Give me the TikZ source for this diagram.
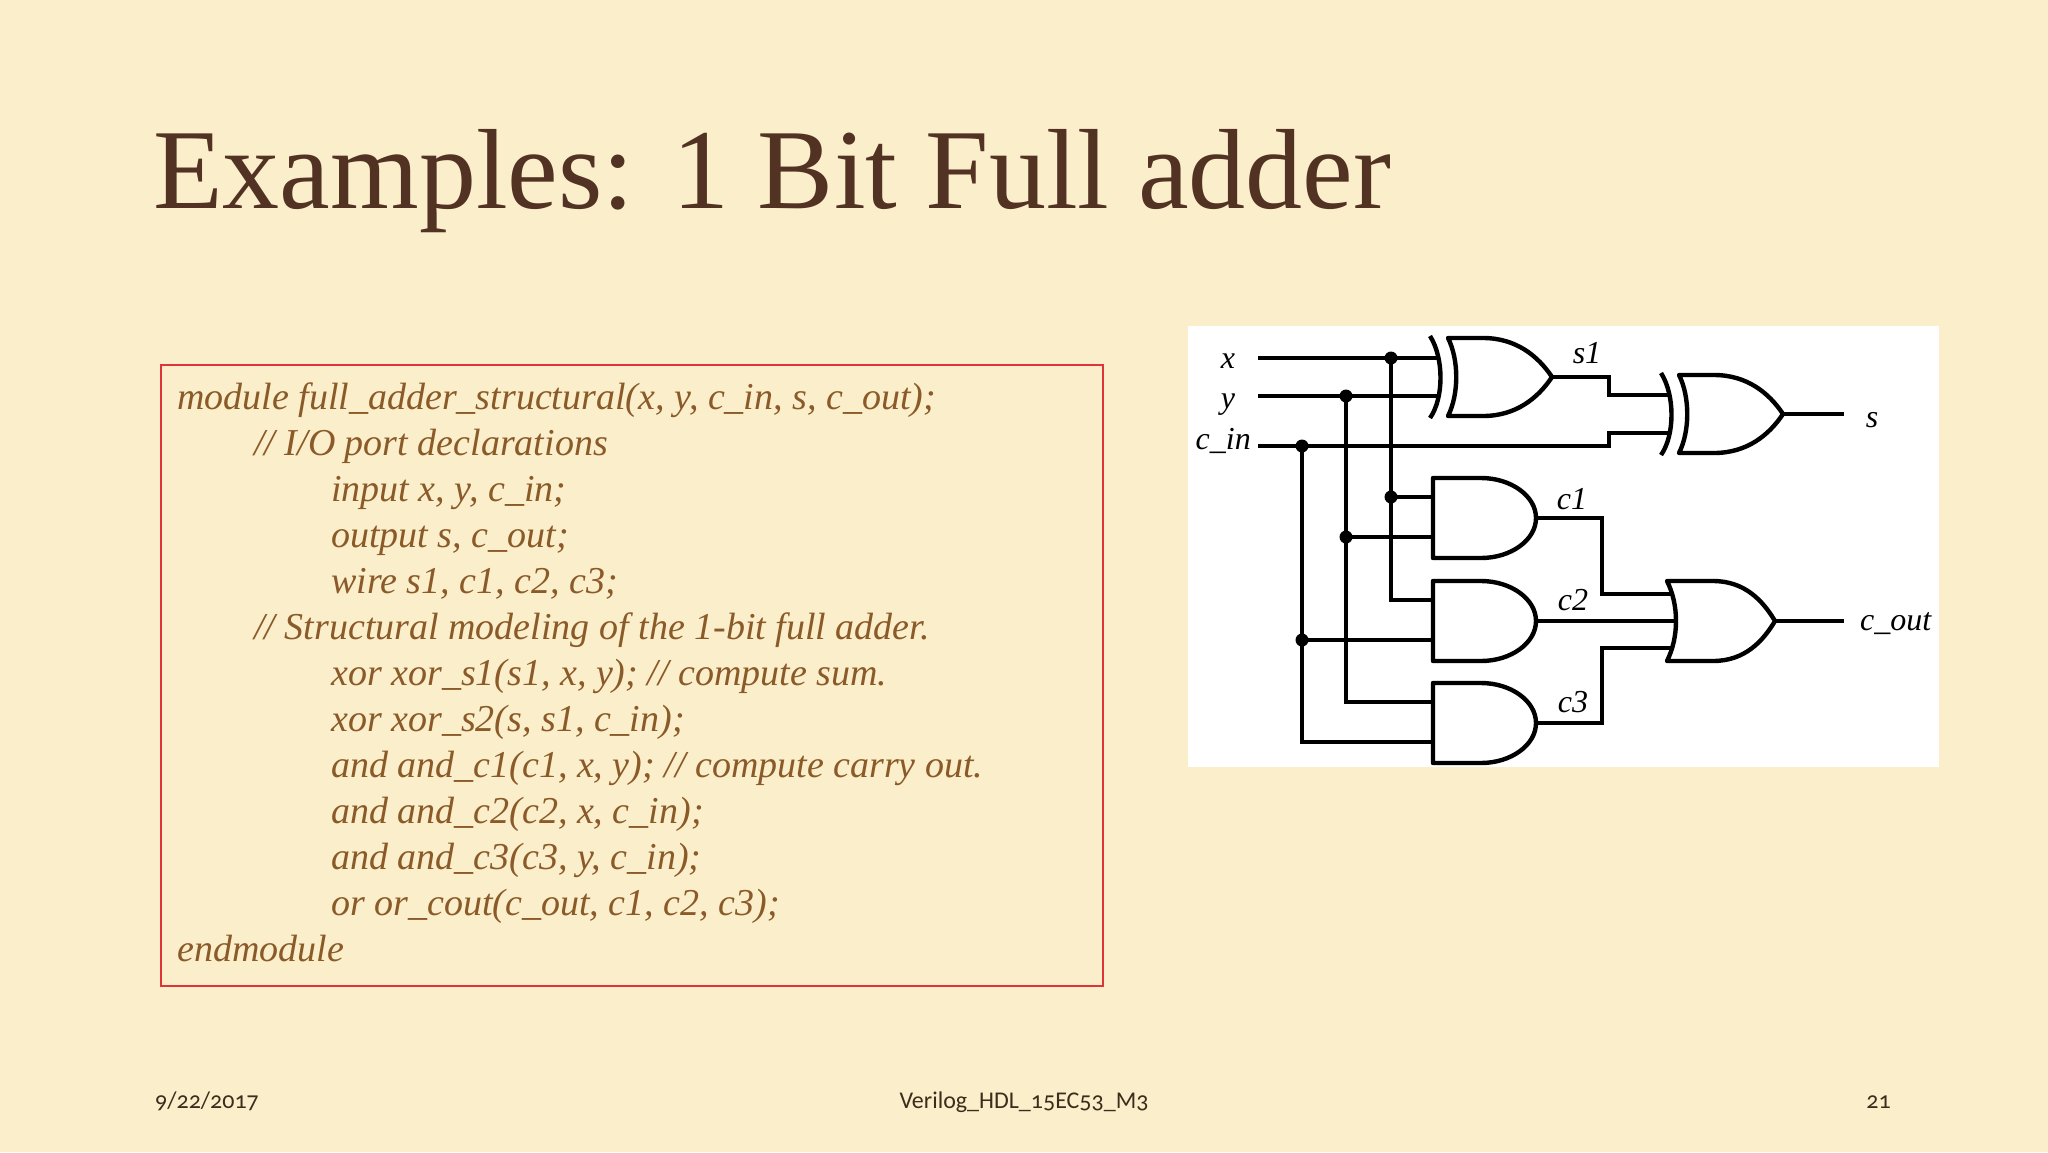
\documentclass[tikz,border=0pt]{standalone}
\usepackage{fontspec}
\setmainfont{Liberation Serif}
\newfontfamily\footfont{Carlito}[Numbers=OldStyle]
\definecolor{slidebg}{HTML}{FBEECB}
\definecolor{titlebrown}{HTML}{523222}
\definecolor{codebrown}{HTML}{8A5A28}
\definecolor{boxred}{HTML}{E0333A}
\definecolor{footdark}{HTML}{3C2C1C}
\tikzset{gate/.style = {line width = 4.4pt, line join = round}}
\tikzset{wire/.style = {line width = 3.1pt}}
\tikzset{circ/.style = {fill, circle, inner sep = 0, minimum size = 13}}
\tikzset{sig/.style = {font = \fontsize{32}{32}\selectfont\itshape, anchor = base, inner sep = 0}}
\tikzset{codeline/.style = {font = \fontsize{38}{46}\selectfont\itshape, text = codebrown,
                            anchor = base west, inner sep = 0}}
\tikzset{foot/.style = {font = \footfont\fontsize{24}{24}\selectfont, text = footdark, inner sep = 0}}

\newcommand{\xorgate}[2]{%
  \begin{scope}[shift={(#2)}]
    \draw [gate] (0,0) -- (35,0) .. controls (68,0) and (90,18) .. (104,39)
      .. controls (90,60) and (68,78) .. (35,78) -- (0,78)
      .. controls (11,56) and (11,22) .. (0,0) -- cycle;
    \draw [gate] (-18,-2) .. controls (-4,20) and (-4,60) .. (-18,80);
    \coordinate (#1-a) at (-10,20);
    \coordinate (#1-b) at (-10,58);
    \coordinate (#1-o) at (104,39);
  \end{scope}}
\newcommand{\andgate}[2]{%
  \begin{scope}[shift={(#2)}]
    \draw [gate] (48,0) -- (0,0) -- (0,80) -- (48,80)
      .. controls (78,80) and (103,62) .. (103,40)
      .. controls (103,18) and (78,0) .. (48,0) -- cycle;
    \coordinate (#1-a) at (0,19);
    \coordinate (#1-b) at (0,59);
    \coordinate (#1-o) at (103,40);
  \end{scope}}
\newcommand{\orgate}[2]{%
  \begin{scope}[shift={(#2)}]
    \draw [gate] (0,0) -- (46,0) .. controls (78,0) and (96,20) .. (108,40)
      .. controls (96,60) and (78,80) .. (46,80) -- (0,80)
      .. controls (12,56) and (12,24) .. (0,0) -- cycle;
    \coordinate (#1-a) at (5,13);
    \coordinate (#1-b) at (9,40);
    \coordinate (#1-c) at (5,67);
    \coordinate (#1-o) at (108,40);
  \end{scope}}

\begin{document}
\begin{tikzpicture}[x=1pt, y=-1pt]
  \useasboundingbox (0,0) rectangle (2048,1152);
  \fill [slidebg] (0,0) rectangle (2048,1152);

  \node [anchor=base west, inner sep=0, text=titlebrown, font=\fontsize{114}{114}\selectfont]
    (title) at (153,208) {Examples: 1 Bit Full adder};

  % verilog listing
  \draw [boxred, line width=2pt] (161,365) rectangle (1103,986);
  \foreach \lvl/\txt [count=\k from 0] in {
      0/{module full\_adder\_structural(x, y, c\_in, s, c\_out);},
      1/{// I/O port declarations},
      2/{input x, y, c\_in;},
      2/{output s, c\_out;},
      2/{wire s1, c1, c2, c3;},
      1/{// Structural modeling of the 1-bit full adder.},
      2/{xor xor\_s1(s1, x, y); // compute sum.},
      2/{xor xor\_s2(s, s1, c\_in);},
      2/{and and\_c1(c1, x, y); // compute carry out.},
      2/{and and\_c2(c2, x, c\_in);},
      2/{and and\_c3(c3, y, c\_in);},
      2/{or or\_cout(c\_out, c1, c2, c3);},
      0/{endmodule}}
    \node [codeline] (code\k) at ({177+77*\lvl}, {409+46*\k}) {\txt};

  % circuit
  \fill [white] (1188,326) rectangle (1939,767);
  \xorgate{xs1}{1448,338}
  \xorgate{xs2}{1679,375}
  \andgate{ac1}{1433,478}
  \andgate{ac2}{1433,581}
  \andgate{ac3}{1433,683}
  \orgate{orc}{1667,581}

  \node [sig] (lx) at (1228,368) {x};
  \node [sig] (ly) at (1228,408) {y};
  \node [sig, anchor=base east] (lcin) at (1251,449) {c\_in};
  \node [sig] (ls1) at (1587,363) {s1};
  \node [sig] (lc1) at (1572,509) {c1};
  \node [sig] (lc2) at (1573,610) {c2};
  \node [sig] (lc3) at (1573,712) {c3};
  \node [sig] (ls) at (1872,427) {s};
  \node [sig, anchor=base west] (lcout) at (1860,630) {c\_out};

  \coordinate (inx) at (1258,358);
  \coordinate (iny) at (1258,396);
  \coordinate (inc) at (1258,446);
  \coordinate (dx1) at (1391,358);
  \coordinate (dy1) at (1346,396);
  \coordinate (dc1) at (1302,446);
  \coordinate (dx2) at (dx1 |- ac1-a);
  \coordinate (dy2) at (dy1 |- ac1-b);
  \coordinate (dc2) at (dc1 |- ac2-b);
  \coordinate (outs) at (1844,414);
  \coordinate (outc) at (1844,621);

  \draw [wire] (inx) -- (xs1-a);
  \draw [wire] (iny) -- (xs1-b);
  \draw [wire] (inc) -- ++(351,0) |- (xs2-b);
  \draw [wire] (xs1-o) -- ++(57,0) |- (xs2-a);
  \draw [wire] (xs2-o) -- (outs);
  \draw [wire] (dx1) |- (ac2-a);
  \draw [wire] (dx2) -- (ac1-a);
  \draw [wire] (dy1) |- (ac3-a);
  \draw [wire] (dy2) -- (ac1-b);
  \draw [wire] (dc1) |- (ac3-b);
  \draw [wire] (dc2) -- (ac2-b);
  \draw [wire] (ac1-o) -- ++(66,0) |- (orc-a);
  \draw [wire] (ac2-o) -- (orc-b);
  \draw [wire] (ac3-o) -- ++(66,0) |- (orc-c);
  \draw [wire] (orc-o) -- (outc);
  \foreach \d in {dx1, dx2, dy1, dy2, dc1, dc2}
    \node [circ] (\d-dot) at (\d) {};

  % footer
  \node [foot, anchor=base west] (date) at (155,1108) {9/22/2017};
  \node [foot, anchor=base] (deck) at (1024,1108) {Verilog\_HDL\_15EC53\_M3};
  \node [foot, anchor=base east] (page) at (1891,1108) {21};
\end{tikzpicture}
\end{document}
